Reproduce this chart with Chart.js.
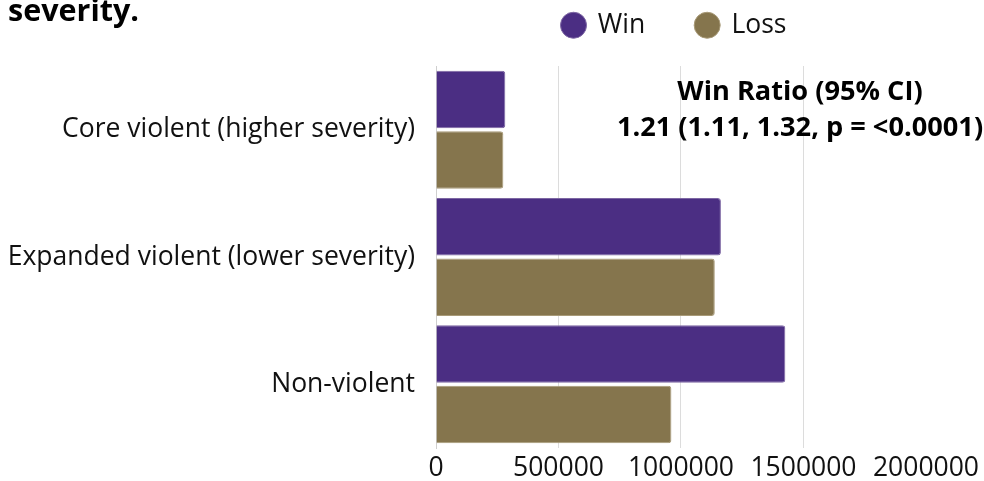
<!DOCTYPE html>
<html>
<head>
<meta charset="utf-8">
<script src="https://cdn.jsdelivr.net/npm/chart.js@4"></script>
<style>
    body { margin: 0; background: #fff; }
    #wrap { width: 984px; height: 481px; }
</style>
</head>
<body>
<div id="wrap"><canvas id="myChart"></canvas></div>
<script>
const categories = ['Core violent (higher severity)', 'Expanded violent (lower severity)', 'Non-violent'];
const winValues = [283000, 1163000, 1426000];
const lossValues = [275000, 1138000, 961000];
const xTicks = [0, 500000, 1000000, 1500000, 2000000];
const titleTail = 'severity.';
const ratioLines = ['Win Ratio (95% CI)', '1.21 (1.11, 1.32, p = <0.0001)'];

const FONT = "'Open Sans', sans-serif";
const SIZE = 26.5;

// title fragment + win ratio note
const notes = {
    id: 'notes',
    afterDraw(chart) {
        const c = chart.ctx;
        c.save();
        c.fillStyle = '#000';
        c.font = 'bold 30.5px ' + FONT;
        c.textBaseline = 'alphabetic';
        c.textAlign = 'left';
        c.fillText(titleTail, 8, 21);
        c.font = 'bold 27.2px ' + FONT;
        c.textBaseline = 'middle';
        c.textAlign = 'center';
        c.fillText(ratioLines[0], 800, 92);
        c.fillText(ratioLines[1], 800, 128);
        c.restore();
    }
};

// legend sits in the top strip, centred over the plot area
const moveLegend = {
    id: 'moveLegend',
    afterInit(chart) {
        const lg = chart.legend;
        const fit = lg.fit;
        lg.fit = function () {
            fit.call(this);
            this.height = 66;
        };
    },
    afterLayout(chart) {
        const lg = chart.legend;
        lg.left = chart.chartArea.left - 6.5;
        lg.right = chart.chartArea.right - 6.5;
        lg.width = lg.right - lg.left;
        lg.top = -39;
    }
};

let myChart;

function ChartBars() {
    const ctx = document.getElementById('myChart');
    myChart = new Chart(ctx, {
        type: 'bar',
        data: {
            labels: categories,
            datasets: [{
                label: 'Win',
                data: winValues,
                backgroundColor: '#4b2e83',
                borderColor: '#7d67a3',
                borderWidth: 1,
                borderRadius: 3,
                borderSkipped: 'start'
            }, {
                label: 'Loss',
                data: lossValues,
                backgroundColor: '#85754d',
                borderColor: '#a89a78',
                borderWidth: 1,
                borderRadius: 3,
                borderSkipped: 'start'
            }]
        },
        options: {
            indexAxis: 'y',
            responsive: true,
            maintainAspectRatio: false,
            animation: false,
            categoryPercentage: 0.95,
            barPercentage: 0.95,
            layout: { padding: { top: 0, right: 9, bottom: 0, left: 7 } },
            plugins: {
                title: { display: false },
                tooltip: { enabled: false },
                legend: {
                    position: 'top',
                    align: 'center',
                    labels: {
                        usePointStyle: true,
                        pointStyle: 'circle',
                        boxHeight: 18.4,
                        boxWidth: 22,
                        padding: 51,
                        color: '#111',
                        font: { family: FONT, size: SIZE }
                    }
                }
            },
            scales: {
                x: {
                    min: 0,
                    max: 2000000,
                    afterBuildTicks(axis) {
                        axis.ticks = xTicks.map(v => ({ value: v }));
                    },
                    afterFit(axis) {
                        axis.height = 33;
                    },
                    grid: {
                        drawTicks: false,
                        color: c => (c.tick && c.tick.value === 2000000) ? 'rgba(0,0,0,0)' : '#dcdcdc'
                    },
                    border: { display: false },
                    ticks: {
                        padding: 5,
                        color: '#111',
                        font: { family: FONT, size: SIZE },
                        callback: v => String(v)
                    }
                },
                y: {
                    afterFit(axis) {
                        axis.width = 429;
                        axis.paddingTop = 0;
                        axis.paddingBottom = 0;
                    },
                    grid: { display: false, drawTicks: false },
                    border: { display: true, color: '#cfcfcf' },
                    ticks: {
                        padding: 21,
                        color: '#111',
                        font: { family: FONT, size: SIZE }
                    }
                }
            }
        },
        plugins: [moveLegend, notes]
    });
}

ChartBars();
</script>
</body>
</html>
